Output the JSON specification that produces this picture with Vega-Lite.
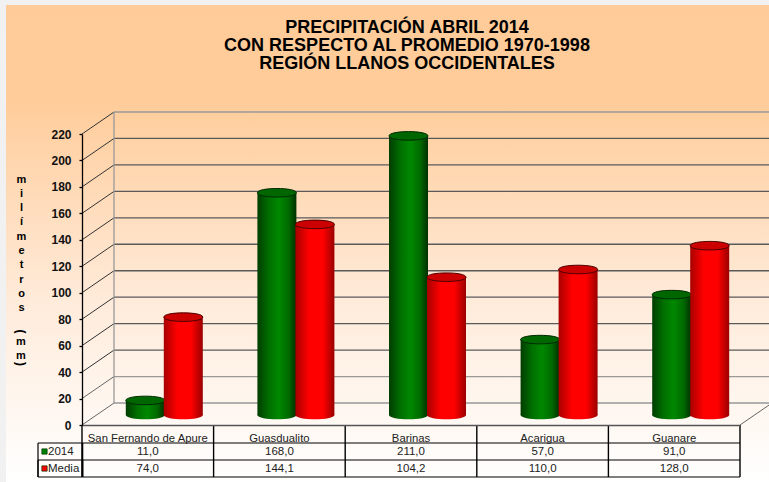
{
"$schema":"https://vega.github.io/schema/vega-lite/v6.json",
"width":769,"height":482,"padding":0,"autosize":"none","background":"#f1f1f1",
"config":{"view":{"stroke":null},"locale":{"number":{"decimal":",","thousands":".","grouping":[3],"currency":["","€"]}},"font":"Liberation Sans"},
"title":{"text":["PRECIPITACIÓN ABRIL 2014","CON RESPECTO AL PROMEDIO 1970-1998","REGIÓN LLANOS OCCIDENTALES"],"font":"Liberation Sans","fontSize":18,"fontWeight":"bold","color":"#000","lineHeight":18,"anchor":"middle","frame":"group","dx":22.5,"baseline":"top","dy":72.5,"offset":0},
"datasets":{
"bars":[
{"cat":"San Fernando de Apure","series":"2014","value":11.0},{"cat":"Guasdualito","series":"2014","value":168.0},{"cat":"Barinas","series":"2014","value":211.0},{"cat":"Acarigua","series":"2014","value":57.0},{"cat":"Guanare","series":"2014","value":91.0},
{"cat":"San Fernando de Apure","series":"Media","value":74.0},{"cat":"Guasdualito","series":"Media","value":144.1},{"cat":"Barinas","series":"Media","value":104.2},{"cat":"Acarigua","series":"Media","value":110.0},{"cat":"Guanare","series":"Media","value":128.0}],
"ticks":[{"v":0},{"v":20},{"v":40},{"v":60},{"v":80},{"v":100},{"v":120},{"v":140},{"v":160},{"v":180},{"v":200},{"v":220}],
"series":[{"series":"2014"},{"series":"Media"}]
},
"resolve":{"scale":{"y":"independent"}},
"layer":[
{"data":{"values":[{}]},"mark":{"type":"rect","fill":{"gradient":"linear","x1":0,"y1":0,"x2":0,"y2":1,"stops":[{"offset":0,"color":"#FFCC99"},{"offset":0.2,"color":"#FFCC9A"},{"offset":0.62,"color":"#FFEBDA"},{"offset":1,"color":"#FFFFFF"}]}},
 "encoding":{"x":{"value":6},"x2":{"value":769},"y":{"value":5},"y2":{"value":482}}},
{"data":{"values":[{"t":"(","p":"a"},{"t":")","p":"b"}]},"layer":[
 {"transform":[{"filter":"datum.p=='a'"}],"mark":{"type":"text","font":"Liberation Sans","fontSize":12,"fontWeight":"bold","color":"#000","angle":90,"align":"center","baseline":"middle"},"encoding":{"x":{"value":21},"y":{"value":331.5},"text":{"field":"t"}}},
 {"transform":[{"filter":"datum.p=='b'"}],"mark":{"type":"text","font":"Liberation Sans","fontSize":12,"fontWeight":"bold","color":"#000","angle":90,"align":"center","baseline":"middle"},"encoding":{"x":{"value":21},"y":{"value":364},"text":{"field":"t"}}}
]},
{"data":{"values":[{"t":"m","p":"a"},{"t":"m","p":"b"}]},"layer":[
 {"transform":[{"filter":"datum.p=='a'"}],"mark":{"type":"text","font":"Liberation Sans","fontSize":11,"fontWeight":"bold","color":"#000","align":"center","baseline":"middle"},"encoding":{"x":{"value":21},"y":{"value":342},"text":{"field":"t"}}},
 {"transform":[{"filter":"datum.p=='b'"}],"mark":{"type":"text","font":"Liberation Sans","fontSize":11,"fontWeight":"bold","color":"#000","align":"center","baseline":"middle"},"encoding":{"x":{"value":21},"y":{"value":355.5},"text":{"field":"t"}}}
]},
{"data":{"name":"ticks"},
 "layer":[
 {"mark":{"type":"rule","strokeWidth":1.3,"yOffset":-22,"y2Offset":-22},
  "encoding":{"x":{"value":114},"x2":{"value":772},"y":{"field":"v","type":"quantitative","scale":{"domain":[0,220],"range":[425,134]},
    "axis":{"values":[0,20,40,60,80,100,120,140,160,180,200,220],"format":"d","title":["m","i","l","í","m","e","t","r","o","s"],"titleAngle":0,"titleX":-61,"titleY":173,"titleAlign":"center","titleBaseline":"top","titleFontSize":11,"titleFontWeight":"bold","titleFont":"Liberation Sans","titleColor":"#000","titleLineHeight":14.3,"offset":-82,"zindex":1,"grid":false,"domainColor":"#000","domainWidth":1.3,"tickColor":"#000","tickSize":3,"tickWidth":1.3,"labelPadding":8,"labelFont":"Liberation Sans","labelFontWeight":"bold","labelFontSize":12,"labelColor":"#111"}},
   "stroke":{"condition":{"test":"datum.v<=20||datum.v==220","value":"#999"},"value":"#5a5a5a"}}},
 {"mark":{"type":"rule","strokeWidth":1,"y2Offset":-22},
  "encoding":{"x":{"value":82},"x2":{"value":114},"y":{"field":"v","type":"quantitative"},"y2":{"field":"v"},
   "stroke":{"condition":{"test":"datum.v<=20","value":"#666"},"value":"#333"}}},
 {"transform":[{"filter":"datum.v==0"}],"mark":{"type":"rule","stroke":"#666","strokeWidth":1,"y2Offset":-22},
  "encoding":{"x":{"value":740},"x2":{"value":772},"y":{"field":"v","type":"quantitative"},"y2":{"field":"v"}}},
 {"transform":[{"filter":"datum.v==0"}],"mark":{"type":"rule","stroke":"#999","strokeWidth":1.3,"yOffset":-22,"y2Offset":-22},
  "encoding":{"x":{"value":114},"y":{"field":"v","type":"quantitative"},"y2":{"datum":220}}}
 ]},
{"data":{"name":"bars"},
 "encoding":{"x":{"field":"cat","type":"nominal","sort":null,"scale":{"type":"band","domain":["San Fernando de Apure","Guasdualito","Barinas","Acarigua","Guanare"],"range":[82,740],"paddingInner":0,"paddingOuter":0},
   "axis":{"title":null,"orient":"bottom","offset":-57,"zindex":1,"ticks":false,"labelAngle":0,"labelPadding":7,"labelFont":"Liberation Sans","labelFontSize":11.3,"labelColor":"#222","domainColor":"#555","domainWidth":1.3}},
  "y":{"field":"value","type":"quantitative","scale":{"domain":[0,220],"range":[425,134]},"axis":null}},
 "layer":[
 {"transform":[{"filter":"datum.series=='2014'"}],"mark":{"type":"point","filled":true,"size":1521,"xOffset":-2.5,"shape":"M-1,0C-1,-0.293 1,-0.293 1,0C1,0.293 -1,0.293 -1,0Z","yOffset":-10,"fill":{"gradient":"linear","x1":0,"y1":0,"x2":1,"y2":0,"stops":[{"offset":0,"color":"#003d00"},{"offset":0.3,"color":"#007000"},{"offset":0.55,"color":"#008800"},{"offset":0.8,"color":"#006a00"},{"offset":1,"color":"#003000"}]},"opacity":1},"encoding":{"y":{"datum":0}}},
 {"transform":[{"filter":"datum.series=='2014'"}],"mark":{"type":"bar","size":39,"xOffset":-2.5,"yOffset":-10,"y2Offset":-10,"fill":{"gradient":"linear","x1":0,"y1":0,"x2":1,"y2":0,"stops":[{"offset":0,"color":"#003d00"},{"offset":0.3,"color":"#007000"},{"offset":0.55,"color":"#008800"},{"offset":0.8,"color":"#006a00"},{"offset":1,"color":"#003000"}]}}},
 {"transform":[{"filter":"datum.series=='2014'"}],"mark":{"type":"point","filled":true,"size":1521,"xOffset":-2.5,"yOffset":-10,"shape":"M-1,0C-1,-0.293 1,-0.293 1,0C1,0.293 -1,0.293 -1,0Z","fill":"#006600","stroke":"#002a00","strokeWidth":1,"opacity":1}},
 {"transform":[{"filter":"datum.series=='Media'"}],"mark":{"type":"point","filled":true,"size":1521,"xOffset":35.5,"shape":"M-1,0C-1,-0.293 1,-0.293 1,0C1,0.293 -1,0.293 -1,0Z","yOffset":-10,"fill":{"gradient":"linear","x1":0,"y1":0,"x2":1,"y2":0,"stops":[{"offset":0,"color":"#A80000"},{"offset":0.35,"color":"#FF0000"},{"offset":0.7,"color":"#FF0000"},{"offset":1,"color":"#9a0000"}]},"opacity":1},"encoding":{"y":{"datum":0}}},
 {"transform":[{"filter":"datum.series=='Media'"}],"mark":{"type":"bar","size":39,"xOffset":35.5,"yOffset":-10,"y2Offset":-10,"fill":{"gradient":"linear","x1":0,"y1":0,"x2":1,"y2":0,"stops":[{"offset":0,"color":"#A80000"},{"offset":0.35,"color":"#FF0000"},{"offset":0.7,"color":"#FF0000"},{"offset":1,"color":"#9a0000"}]}}},
 {"transform":[{"filter":"datum.series=='Media'"}],"mark":{"type":"point","filled":true,"size":1521,"xOffset":35.5,"yOffset":-10,"shape":"M-1,0C-1,-0.293 1,-0.293 1,0C1,0.293 -1,0.293 -1,0Z","fill":"#CC0000","stroke":"#4d0000","strokeWidth":1,"opacity":1}}
 ]},
{"data":{"name":"bars"},
 "encoding":{"y":{"field":"series","type":"nominal","scale":{"type":"band","domain":["2014","Media"],"range":[443,477],"paddingInner":0,"paddingOuter":0},"axis":null}},
 "layer":[
 {"mark":{"type":"text","font":"Liberation Sans","fontSize":11.5,"color":"#222","align":"center","baseline":"middle"},
  "encoding":{"x":{"field":"cat","type":"nominal"},"text":{"field":"value","type":"quantitative","format":".1f"}}},
 {"data":{"name":"series"},"mark":{"type":"rule","stroke":"#000","strokeWidth":1.2},
  "encoding":{"x":{"value":38},"x2":{"value":740},"y":{"field":"series","type":"nominal","bandPosition":0}}},
 {"data":{"name":"series"},"transform":[{"filter":"datum.series=='Media'"}],"mark":{"type":"rule","stroke":"#000","strokeWidth":1.2},
  "encoding":{"x":{"value":38},"x2":{"value":740},"y":{"field":"series","type":"nominal","bandPosition":1}}},
 {"data":{"name":"series"},"mark":{"type":"rule","stroke":"#000","strokeWidth":1.2},
  "encoding":{"x":{"value":38},"y":{"field":"series","type":"nominal","bandPosition":0},"y2":{"value":477}}},
 {"data":{"name":"series"},"mark":{"type":"rule","stroke":"#000","strokeWidth":1.6},
  "encoding":{"x":{"value":82.5},"y":{"field":"series","type":"nominal","bandPosition":0},"y2":{"value":477}}},
 {"data":{"name":"series"},"mark":{"type":"point","shape":"square","filled":true,"size":28,"stroke":"#003300","strokeWidth":0.7,"opacity":1},
  "encoding":{"x":{"value":44.5},"y":{"field":"series","type":"nominal"},"fill":{"condition":{"test":"datum.series=='2014'","value":"#008000"},"value":"#FF0000"}}},
 {"data":{"name":"series"},"mark":{"type":"text","font":"Liberation Sans","fontSize":11.5,"color":"#222","align":"left","baseline":"middle"},
  "encoding":{"x":{"value":48},"y":{"field":"series","type":"nominal"},"text":{"field":"series","type":"nominal"}}},
 {"transform":[{"filter":"datum.series=='2014'"}],"mark":{"type":"rule","stroke":"#000","strokeWidth":1.4},
  "encoding":{"x":{"field":"cat","type":"nominal","bandPosition":0},"y":{"value":425},"y2":{"value":477}}},
 {"transform":[{"filter":"datum.series=='2014'&&datum.cat=='Guanare'"}],"mark":{"type":"rule","stroke":"#000","strokeWidth":1.4},
  "encoding":{"x":{"field":"cat","type":"nominal","bandPosition":1},"y":{"value":425},"y2":{"value":477}}}
 ]}
]
}
